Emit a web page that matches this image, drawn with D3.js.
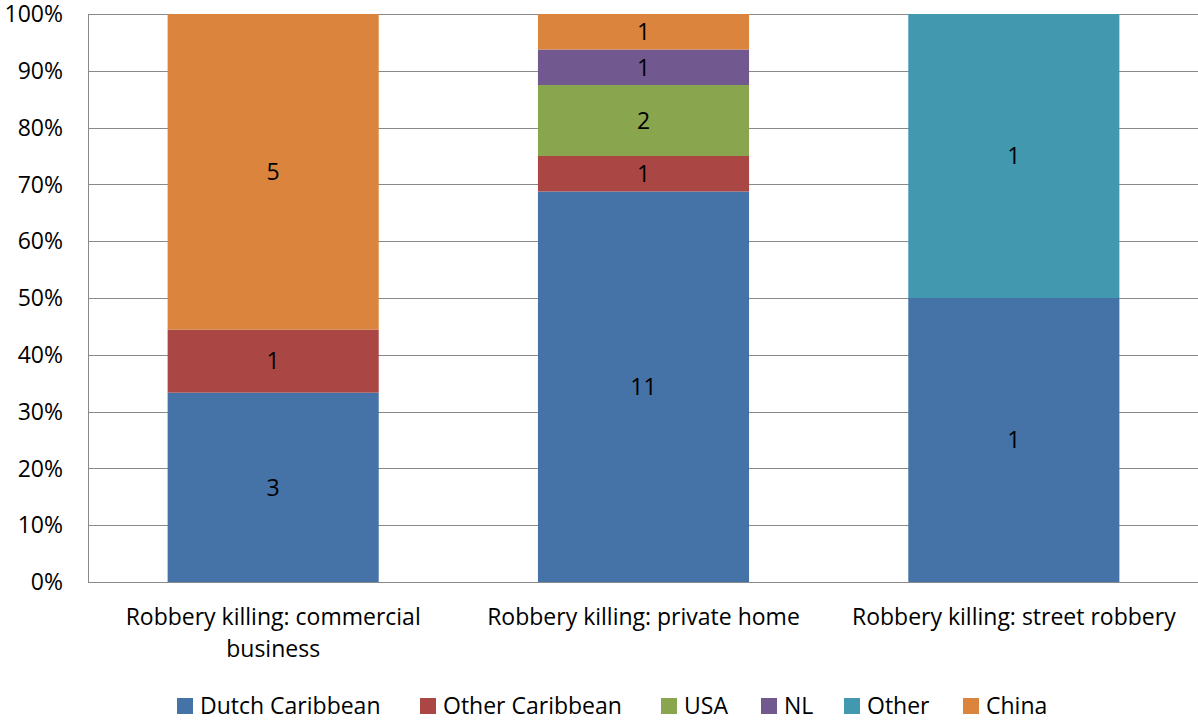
<!DOCTYPE html>
<html>
<head>
<meta charset="utf-8">
<script src="https://cdn.jsdelivr.net/npm/d3@7"></script>
<style>
  html, body { margin: 0; padding: 0; background: #fff; }
  svg { display: block; font-family: "Open Sans", sans-serif; }
</style>
</head>
<body>
<svg id="chart" width="1198" height="720"></svg>
<script>
// Robbery killings by origin of victim, stacked to 100%
const categories = [
  "Robbery killing: commercial business",
  "Robbery killing: private home",
  "Robbery killing: street robbery"
];
const seriesNames = ["Dutch Caribbean", "Other Caribbean", "USA", "NL", "Other", "China"];
const dutchCaribbean = [3, 11, 1];
const otherCaribbean = [1, 1, 0];
const usa = [0, 2, 0];
const nl = [0, 1, 0];
const other = [0, 0, 1];
const china = [5, 1, 0];
const seriesColors = ["#4572A7", "#AA4643", "#89A54E", "#71588F", "#4198AF", "#DB843D"];
const yTicks = [0, 0.1, 0.2, 0.3, 0.4, 0.5, 0.6, 0.7, 0.8, 0.9, 1.0];

const seriesValues = [dutchCaribbean, otherCaribbean, usa, nl, other, china];

const rows = categories.map((c, i) => {
  const r = { category: c };
  seriesNames.forEach((s, j) => { r[s] = seriesValues[j][i]; });
  return r;
});

const FS = 23;
const svg = d3.select("#chart");
const margin = { left: 88, top: 14, right: -1, bottom: 138 };
const W = 1198, H = 720;
const plotW = W - margin.left - margin.right;
const plotH = H - margin.top - margin.bottom;

const x = d3.scaleBand().domain(categories).range([margin.left, margin.left + plotW])
  .paddingInner(0.43).paddingOuter(0.215);
const y = d3.scaleLinear().domain([0, 1]).range([margin.top + plotH, margin.top]);

const stack = d3.stack().keys(seriesNames).offset(d3.stackOffsetExpand);
const layers = stack(rows);

// gridlines
svg.append("g")
  .selectAll("line")
  .data(yTicks)
  .join("line")
  .attr("x1", margin.left)
  .attr("x2", margin.left + plotW)
  .attr("y1", d => Math.round(y(d)) + 0.5)
  .attr("y2", d => Math.round(y(d)) + 0.5)
  .attr("stroke", "#898989")
  .attr("stroke-width", 1);

// y axis line
svg.append("line")
  .attr("x1", margin.left + 0.5).attr("x2", margin.left + 0.5)
  .attr("y1", y(1)).attr("y2", y(0) + 1)
  .attr("stroke", "#898989");

// y tick labels
svg.append("g")
  .selectAll("text")
  .data(yTicks)
  .join("text")
  .attr("x", 63)
  .attr("y", d => y(d))
  .attr("dy", "0.36em")
  .attr("text-anchor", "end")
  .attr("font-size", FS)
  .attr("fill", "#000")
  .text(d => d3.format(".0%")(d));

// bars
const g = svg.append("g");
layers.forEach((layer, j) => {
  g.append("g")
    .attr("fill", seriesColors[j])
    .selectAll("rect")
    .data(layer.filter(d => d[1] - d[0] > 0))
    .join("rect")
    .attr("x", d => x(d.data.category))
    .attr("width", x.bandwidth())
    .attr("y", d => y(d[1]))
    .attr("height", d => y(d[0]) - y(d[1]));
});

// value labels
layers.forEach((layer, j) => {
  g.append("g")
    .selectAll("text")
    .data(layer.filter(d => d[1] - d[0] > 0))
    .join("text")
    .attr("x", d => x(d.data.category) + x.bandwidth() / 2)
    .attr("y", d => (y(d[0]) + y(d[1])) / 2)
    .attr("dy", "0.36em")
    .attr("text-anchor", "middle")
    .attr("font-size", FS)
    .attr("fill", "#000")
    .text(d => d.data[layer.key]);
});

// category labels, wrapped to fit the band
const catG = svg.append("g");
categories.forEach(c => {
  const cx = x(c) + x.bandwidth() / 2;
  const t = catG.append("text")
    .attr("x", cx)
    .attr("y", 617)
    .attr("dy", "0.36em")
    .attr("text-anchor", "middle")
    .attr("font-size", FS)
    .attr("fill", "#000");
  const maxW = 340;
  const words = c.split(" ");
  let line = [];
  let tspan = t.append("tspan").attr("x", cx);
  words.forEach(w => {
    line.push(w);
    tspan.text(line.join(" "));
    if (tspan.node().getComputedTextLength() > maxW && line.length > 1) {
      line.pop();
      tspan.text(line.join(" "));
      line = [w];
      tspan = t.append("tspan").attr("x", cx).attr("dy", 32).text(w);
    }
  });
});

// legend
const legendX = [177, 420, 661, 761, 844, 963];
const leg = svg.append("g");
seriesNames.forEach((s, j) => {
  leg.append("rect")
    .attr("x", legendX[j]).attr("y", 698)
    .attr("width", 16).attr("height", 16)
    .attr("fill", seriesColors[j]);
  leg.append("text")
    .attr("x", legendX[j] + 23).attr("y", 706)
    .attr("dy", "0.36em")
    .attr("font-size", FS)
    .attr("fill", "#000")
    .text(s);
});
</script>
</body>
</html>
